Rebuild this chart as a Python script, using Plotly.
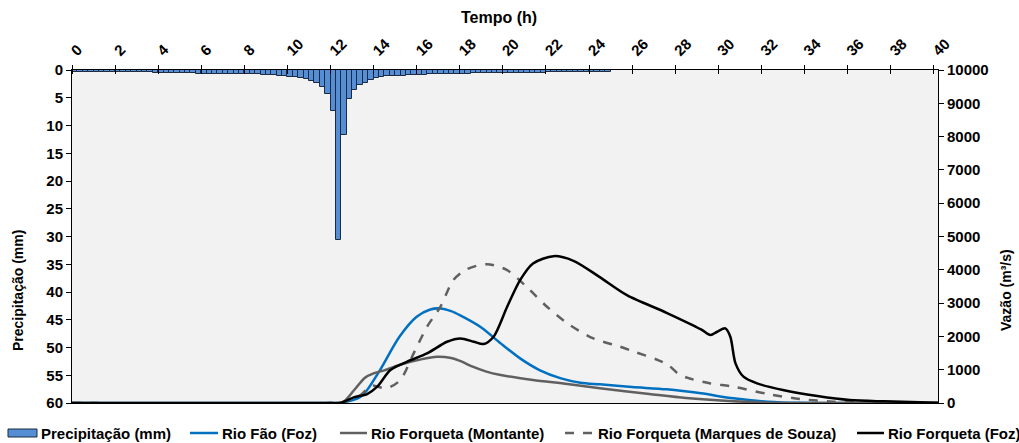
import plotly.graph_objects as go

# --- Precipitation, 15-minute totals (mm), 0 h to 25 h ---
precip_mm = (
    [0.35] * 15 + [0.55] * 8 + [0.7] * 2 + [0.65] * 6 + [0.8] * 4 + [0.9] * 3
    + [1.05, 1.05, 1.2, 1.35, 1.5, 1.7, 1.9, 2.4, 3.0, 4.3, 7.4, 30.6, 11.8, 5.3,
       3.6, 2.7, 2.3, 1.8, 1.5, 1.3, 1.15, 1.05, 1.05, 1.05, 0.95, 0.95]
    + [0.85] * 2 + [0.8] * 2 + [0.75] * 4 + [0.7] * 2 + [0.55] * 6 + [0.5] * 8 + [0.4] * 12
)
precip_step_h = 0.25
precip_t = [precip_step_h * (i + 0.5) for i in range(len(precip_mm))]

# --- Discharge hydrographs (m³/s) ---
t_fao = [0, 12.0, 12.5, 13.0, 13.4, 13.7, 14.3, 15.2, 16.0, 16.6, 17.1, 17.6, 18.0, 19.0, 19.9,
         20.8, 21.7, 22.7, 23.6, 24.5, 26.0, 27.6, 29.2, 30.7, 32.3, 33.8, 36.0, 40.2]
q_fao = [0, 0, 10, 80, 190, 390, 990, 1990, 2590, 2800, 2840, 2760, 2640, 2270, 1790,
         1340, 990, 740, 610, 560, 480, 410, 290, 140, 40, 5, 0, 0]

t_montante = [0, 12.0, 12.6, 13.1, 13.6, 14.0, 14.5, 15.2, 16.2, 16.95, 17.6, 18.1, 18.6,
              19.2, 19.9, 21.4, 23.0, 24.5, 26.8, 28.5, 30.5, 32.5, 35.0, 40.2]
q_montante = [0, 0, 40, 390, 760, 890, 980, 1140, 1310, 1390, 1350, 1240, 1090,
              950, 840, 690, 570, 440, 270, 150, 60, 10, 0, 0]

t_marques = [0, 12.0, 12.6, 13.4, 13.9, 14.6, 15.24, 15.86, 16.48, 17.1, 17.7, 18.3, 19.26,
             20.2, 21.1, 22.05, 23.0, 24.2, 25.4, 26.1, 27.2, 27.7, 28.1, 28.55, 29.6, 30.7,
             32.3, 33.8, 35.35, 37.0, 40.2]
q_marques = [0, 0, 30, 240, 520, 440, 690, 1490, 2290, 2890, 3690, 4010, 4170,
             3990, 3490, 2890, 2390, 1940, 1700, 1540, 1290, 1130, 900, 760, 590, 490,
             270, 120, 40, 10, 0]

t_foz = [0, 12.0, 12.46, 13.08, 13.7, 14.17, 14.78, 15.56, 16.48, 17.41, 18.03, 18.65, 19.1,
         19.57, 20.2, 20.8, 21.4, 22.35, 23.28, 24.5, 25.76, 27.6, 29.2, 29.64, 29.95, 30.33,
         30.56, 30.8, 31.17, 31.8, 33.0, 34.6, 36.1, 37.7, 40.2]
q_foz = [0, 0, 0, 170, 270, 490, 990, 1240, 1490, 1840, 1940, 1840, 1770,
         1990, 2890, 3690, 4190, 4410, 4270, 3780, 3240, 2710, 2210, 2040, 2140, 2240,
         1990, 1190, 790, 590, 390, 210, 90, 50, 10]

# tick labels
time_ticks = list(range(0, 41, 2))
precip_ticks = list(range(0, 61, 5))
flow_ticks = list(range(0, 10001, 1000))

FONT = "Liberation Sans, Arial, sans-serif"
bold = dict(family=FONT, size=15, color="#000000", weight="bold")
bold_title = dict(bold, size=14)
bold_top_title = dict(bold, size=16)

BAR_FILL = "#558ED5"
BAR_EDGE = "#1B2A40"

# plot-area geometry in pixels (used for legend placement in paper coords)
W, H = 1019, 443
ML, MR, MT, MB = 72, 81, 70, 40
PW, PH = W - ML - MR, H - MT - MB


def px_to_paper(px, py):
    return (px - ML) / PW, (H - MB - py) / PH


fig = go.Figure()

fig.add_trace(go.Bar(
    x=precip_t, y=precip_mm, width=precip_step_h,
    name="Precipitação (mm)",
    marker=dict(color=BAR_FILL, line=dict(color=BAR_EDGE, width=1)),
    xaxis="x", yaxis="y",
))

line_series = [
    ("Rio Fão (Foz)", t_fao, q_fao, "#0070C0", "solid"),
    ("Rio Forqueta (Montante)", t_montante, q_montante, "#606060", "solid"),
    ("Rio Forqueta (Marques de Souza)", t_marques, q_marques, "#606060", "dash"),
    ("Rio Forqueta (Foz)", t_foz, q_foz, "#000000", "solid"),
]
for name, t, q, color, dash in line_series:
    fig.add_trace(go.Scatter(
        x=t, y=q, name=name, mode="lines",
        line=dict(color=color, width=2.5, dash=dash, shape="spline", smoothing=0.8),
        xaxis="x", yaxis="y2",
    ))

# legend row along the bottom, drawn with shapes + text
legend_y = 433
legend_entries = [
    # (symbol x0, symbol x1, text x, label, kind, color, dash)
    (8, 37, 39, "Precipitação (mm)", "bar", BAR_FILL, None),
    (190, 218, 220, "Rio Fão (Foz)", "line", "#0070C0", "solid"),
    (340, 367, 369, "Rio Forqueta (Montante)", "line", "#606060", "solid"),
    (565, 594, 596, "Rio Forqueta (Marques de Souza)", "line", "#606060", "dash"),
    (857, 884, 886, "Rio Forqueta (Foz)", "line", "#000000", "solid"),
]
shapes, annotations = [], []
for x0, x1, tx, label, kind, color, dash in legend_entries:
    px0, py = px_to_paper(x0, legend_y)
    px1, _ = px_to_paper(x1, legend_y)
    if kind == "bar":
        _, ytop = px_to_paper(x0, legend_y - 4)
        _, ybot = px_to_paper(x0, legend_y + 4)
        shapes.append(dict(type="rect", xref="paper", yref="paper", x0=px0, x1=px1,
                           y0=ybot, y1=ytop, fillcolor=color,
                           line=dict(color=BAR_EDGE, width=1)))
    else:
        shapes.append(dict(type="line", xref="paper", yref="paper", x0=px0, x1=px1,
                           y0=py, y1=py, line=dict(color=color, width=2.5, dash=dash)))
    ptx, _ = px_to_paper(tx, legend_y)
    annotations.append(dict(text=label, xref="paper", yref="paper", x=ptx, y=py,
                            xanchor="left", yanchor="middle", showarrow=False, font=bold))

annotations += [
    dict(text="Tempo (h)", xref="paper", yref="paper",
         x=px_to_paper(499, 0)[0], y=px_to_paper(0, 18)[1],
         showarrow=False, font=bold_top_title, xanchor="center", yanchor="middle"),
    dict(text="Precipitação (mm)", xref="paper", yref="paper",
         x=px_to_paper(18, 0)[0], y=px_to_paper(0, 291)[1],
         showarrow=False, font=bold_title, textangle=-90, xanchor="center", yanchor="middle"),
    dict(text="Vazão (m³/s)", xref="paper", yref="paper",
         x=px_to_paper(1006, 0)[0], y=px_to_paper(0, 290)[1],
         showarrow=False, font=bold_title, textangle=-90, xanchor="center", yanchor="middle"),
]

fig.update_layout(
    width=W, height=H,
    margin=dict(l=ML, r=MR, t=MT, b=MB, autoexpand=False),
    paper_bgcolor="#FFFFFF",
    plot_bgcolor="#F2F2F2",
    font=bold,
    bargap=0,
    showlegend=False,
    xaxis=dict(
        side="top", range=[0, 40.2], tickmode="array", tickvals=time_ticks,
        ticktext=[str(v) for v in time_ticks], tickangle=-45,
        showline=True, linecolor="#000000", linewidth=1, mirror=True,
        ticks="outside", ticklen=4, tickcolor="#000000",
        minor=dict(ticks="inside", ticklen=4, tickcolor="#000000", dtick=2, tick0=0),
        showgrid=False, zeroline=False, tickfont=bold, automargin=False,
    ),
    yaxis=dict(
        range=[60, 0], tickmode="array", tickvals=precip_ticks,
        ticktext=[str(v) for v in precip_ticks],
        showline=True, linecolor="#000000", linewidth=1,
        ticks="outside", ticklen=5, tickcolor="#000000",
        showgrid=False, zeroline=False, tickfont=bold, automargin=False,
    ),
    yaxis2=dict(
        overlaying="y", side="right", range=[0, 10000], tickmode="array",
        tickvals=flow_ticks, ticktext=[str(v) for v in flow_ticks],
        showline=True, linecolor="#000000", linewidth=1,
        ticks="outside", ticklen=5, tickcolor="#000000",
        showgrid=False, zeroline=False, tickfont=bold, automargin=False,
    ),
    shapes=shapes,
    annotations=annotations,
)

fig.write_html("out.html")
